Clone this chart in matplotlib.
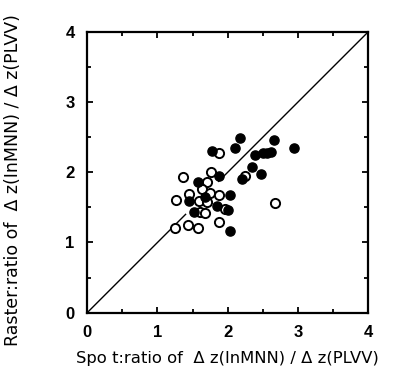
import numpy as np
import matplotlib.pyplot as plt
from matplotlib.ticker import MultipleLocator

# filled circles
filled_x = [2.17, 2.10, 2.66, 2.95, 2.39, 2.50, 2.56, 2.61, 2.35, 2.47, 2.20,
            1.77, 1.87, 1.57, 1.45, 1.68, 1.84, 2.03, 2.00, 1.52, 2.03]
filled_y = [2.49, 2.34, 2.46, 2.34, 2.24, 2.27, 2.28, 2.29, 2.08, 1.98, 1.91,
            2.30, 1.95, 1.86, 1.59, 1.65, 1.52, 1.67, 1.46, 1.44, 1.16]
# open circles
open_x = [1.87, 1.37, 1.76, 1.71, 2.24, 1.63, 1.45, 1.75, 1.87, 1.27, 1.59,
          1.71, 1.96, 1.60, 1.68, 1.25, 1.43, 1.57, 1.87, 2.67]
open_y = [2.28, 1.93, 2.01, 1.86, 1.95, 1.76, 1.69, 1.71, 1.67, 1.60, 1.59,
          1.58, 1.48, 1.44, 1.42, 1.20, 1.25, 1.20, 1.29, 1.56]

# y = x line, drawn with a break in the middle
line_ends = [0, 4]
line_gap = [1.40, 1.87]
ticks = [0, 1, 2, 3, 4]

plt.rcParams['font.family'] = ['Liberation Sans', 'DejaVu Sans']

fig = plt.figure(figsize=(3.93, 3.70), dpi=100)
ax = fig.add_axes([0.222, 0.155, 0.715, 0.759])

ax.plot([line_ends[0], line_gap[0]], [line_ends[0], line_gap[0]], color='black', lw=1.0)
ax.plot([line_gap[1], line_ends[1]], [line_gap[1], line_ends[1]], color='black', lw=1.0)

ax.plot(open_x, open_y, 'o', ms=6.6, mfc='white', mec='black', mew=1.4, zorder=3)
ax.plot(filled_x, filled_y, 'o', ms=6.6, mfc='black', mec='black', mew=1.0, zorder=4)

ax.set_xlim(0, 4)
ax.set_ylim(0, 4)
ax.set_xticks(ticks)
ax.set_yticks(ticks)
ax.xaxis.set_minor_locator(MultipleLocator(0.5))
ax.yaxis.set_minor_locator(MultipleLocator(0.5))
ax.tick_params(which='both', direction='in', top=True, right=True, width=1.3)
ax.tick_params(which='major', length=4.5, labelsize=12, pad=9)
ax.tick_params(which='minor', length=3)
for lab in ax.get_xticklabels() + ax.get_yticklabels():
    lab.set_fontweight('bold')
for sp in ax.spines.values():
    sp.set_linewidth(1.6)

fig.text(76 / 393, 1 - 358 / 370, 'Spo t:ratio of  \u0394 z(InMNN) / \u0394 z(PLVV)',
         ha='left', va='center', fontsize=11.8, family='DejaVu Sans')
fig.text(13 / 393, 1 - 180 / 370, 'Raster:ratio of  \u0394 z(InMNN) / \u0394 z(PLVV)',
         ha='center', va='center', rotation=90, fontsize=12.5, family='DejaVu Sans')

fig.savefig('out.png', dpi=100)
